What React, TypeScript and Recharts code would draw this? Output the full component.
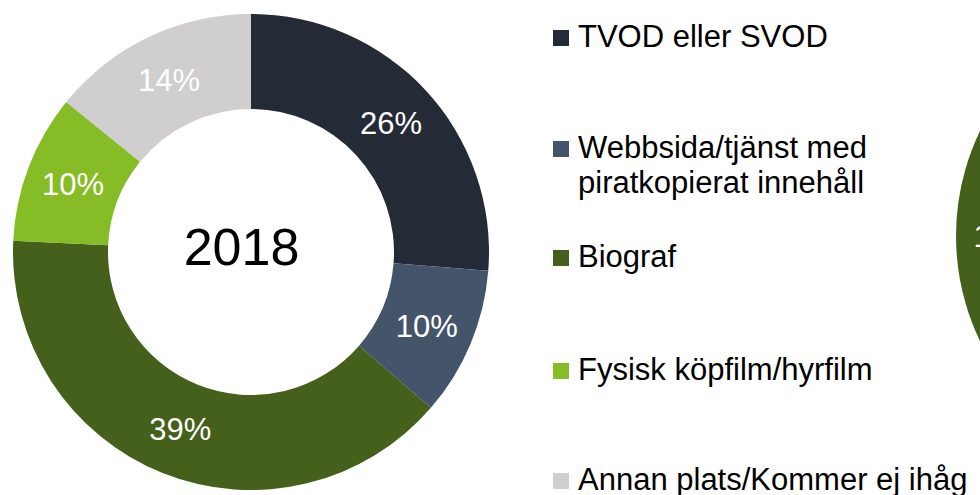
import React from 'react';
import { PieChart, Pie, Cell, Legend, Label } from 'recharts';

// ---- data ----
const categories = [
  'TVOD eller SVOD',
  'Webbsida/tjänst med piratkopierat innehåll',
  'Biograf',
  'Fysisk köpfilm/hyrfilm',
  'Annan plats/Kommer ej ihåg',
];
const values2018 = [26, 10, 39, 10, 14];
// second (cut-off) donut on the right edge, mostly outside the picture
const values2019 = [48, 18, 18, 6, 10];
const colors = ['#242a36', '#44546a', '#45601a', '#86bc25', '#d0cece'];
const yearLabels = ['2018', '2019'];

const data2018 = categories.map((name, i) => ({ name, value: values2018[i], fill: colors[i] }));
const data2019 = categories.map((name, i) => ({ name, value: values2019[i], fill: colors[i] }));

const FONT = '"Liberation Sans", Arial, Helvetica, sans-serif';
const RAD = Math.PI / 180;

const PIES = [
  { cx: 251, cy: 252, inner: 143, outer: 238 },
  { cx: 1198, cy: 236, inner: 145, outer: 242 },
];

const sliceLabel = (props: any) => {
  const { cx, cy, midAngle, innerRadius, outerRadius, value } = props;
  const r = (innerRadius + outerRadius) / 2;
  const x = cx + r * Math.cos(-midAngle * RAD);
  const y = cy + r * Math.sin(-midAngle * RAD);
  const fs = 31;
  return (
    <text x={x} y={y + 0.358 * fs} fill="#ffffff" fontSize={fs} fontFamily={FONT} textAnchor="middle">
      {`${value}%`}
    </text>
  );
};

const centerLabel = (text: string, pie: { cx: number; cy: number }) => (props: any) => {
  const vb = props.viewBox || {};
  const cx = typeof vb.cx === 'number' ? vb.cx : pie.cx;
  const cy = typeof vb.cy === 'number' ? vb.cy : pie.cy;
  const fs = 52;
  return (
    <text x={cx - 9.5} y={cy - 5.5 + 0.358 * fs} fill="#000000" fontSize={fs} fontFamily={FONT} textAnchor="middle">
      {text}
    </text>
  );
};

const wrapText = (s: string, maxChars: number) => {
  const words = s.split(' ');
  const lines: string[] = [];
  let cur = '';
  words.forEach((w) => {
    const next = cur ? cur + ' ' + w : w;
    if (next.length > maxChars && cur) {
      lines.push(cur);
      cur = w;
    } else cur = next;
  });
  if (cur) lines.push(cur);
  return lines;
};

const legendBaselines = [47, 158, 267, 380, 490];

const LegendContent = () => (
  <svg width={435} height={495} style={{ display: 'block', overflow: 'visible' }}>
    {categories.map((name, i) => {
      const lines = wrapText(name, 27);
      const base = legendBaselines[i];
      return (
        <g key={name}>
          <rect x={8} y={base - 17} width={16} height={16} fill={colors[i]} />
          {lines.map((ln, j) => (
            <text key={j} x={33} y={base + j * 35} fontSize={31} fontFamily={FONT} fill="#000000">
              {ln}
            </text>
          ))}
        </g>
      );
    })}
  </svg>
);

export default function App() {
  return (
    <div style={{ position: 'absolute', left: 0, top: 0, width: 980, height: 495, overflow: 'hidden', background: '#ffffff' }}>
      <PieChart width={1450} height={495} margin={{ top: 0, right: 0, bottom: 0, left: 0 }}>
        <Pie
          data={data2018}
          dataKey="value"
          nameKey="name"
          cx={PIES[0].cx}
          cy={PIES[0].cy}
          innerRadius={PIES[0].inner}
          outerRadius={PIES[0].outer}
          startAngle={90}
          endAngle={-270}
          stroke="none"
          label={sliceLabel}
          labelLine={false}
          isAnimationActive={false}
        >
          {data2018.map((d, i) => (
            <Cell key={i} fill={colors[i]} stroke="none" />
          ))}
          <Label position="center" content={centerLabel(yearLabels[0], PIES[0])} />
        </Pie>
        <Pie
          data={data2019}
          dataKey="value"
          nameKey="name"
          cx={PIES[1].cx}
          cy={PIES[1].cy}
          innerRadius={PIES[1].inner}
          outerRadius={PIES[1].outer}
          startAngle={90}
          endAngle={-270}
          stroke="none"
          label={sliceLabel}
          labelLine={false}
          legendType="none"
          isAnimationActive={false}
        >
          {data2019.map((d, i) => (
            <Cell key={i} fill={colors[i]} stroke="none" />
          ))}
          <Label position="center" content={centerLabel(yearLabels[1], PIES[1])} />
        </Pie>
        <Legend
          layout="vertical"
          align="right"
          verticalAlign="top"
          content={LegendContent}
          wrapperStyle={{ left: 545, top: 0, right: 'auto', width: 435, height: 495 }}
        />
      </PieChart>
    </div>
  );
}
